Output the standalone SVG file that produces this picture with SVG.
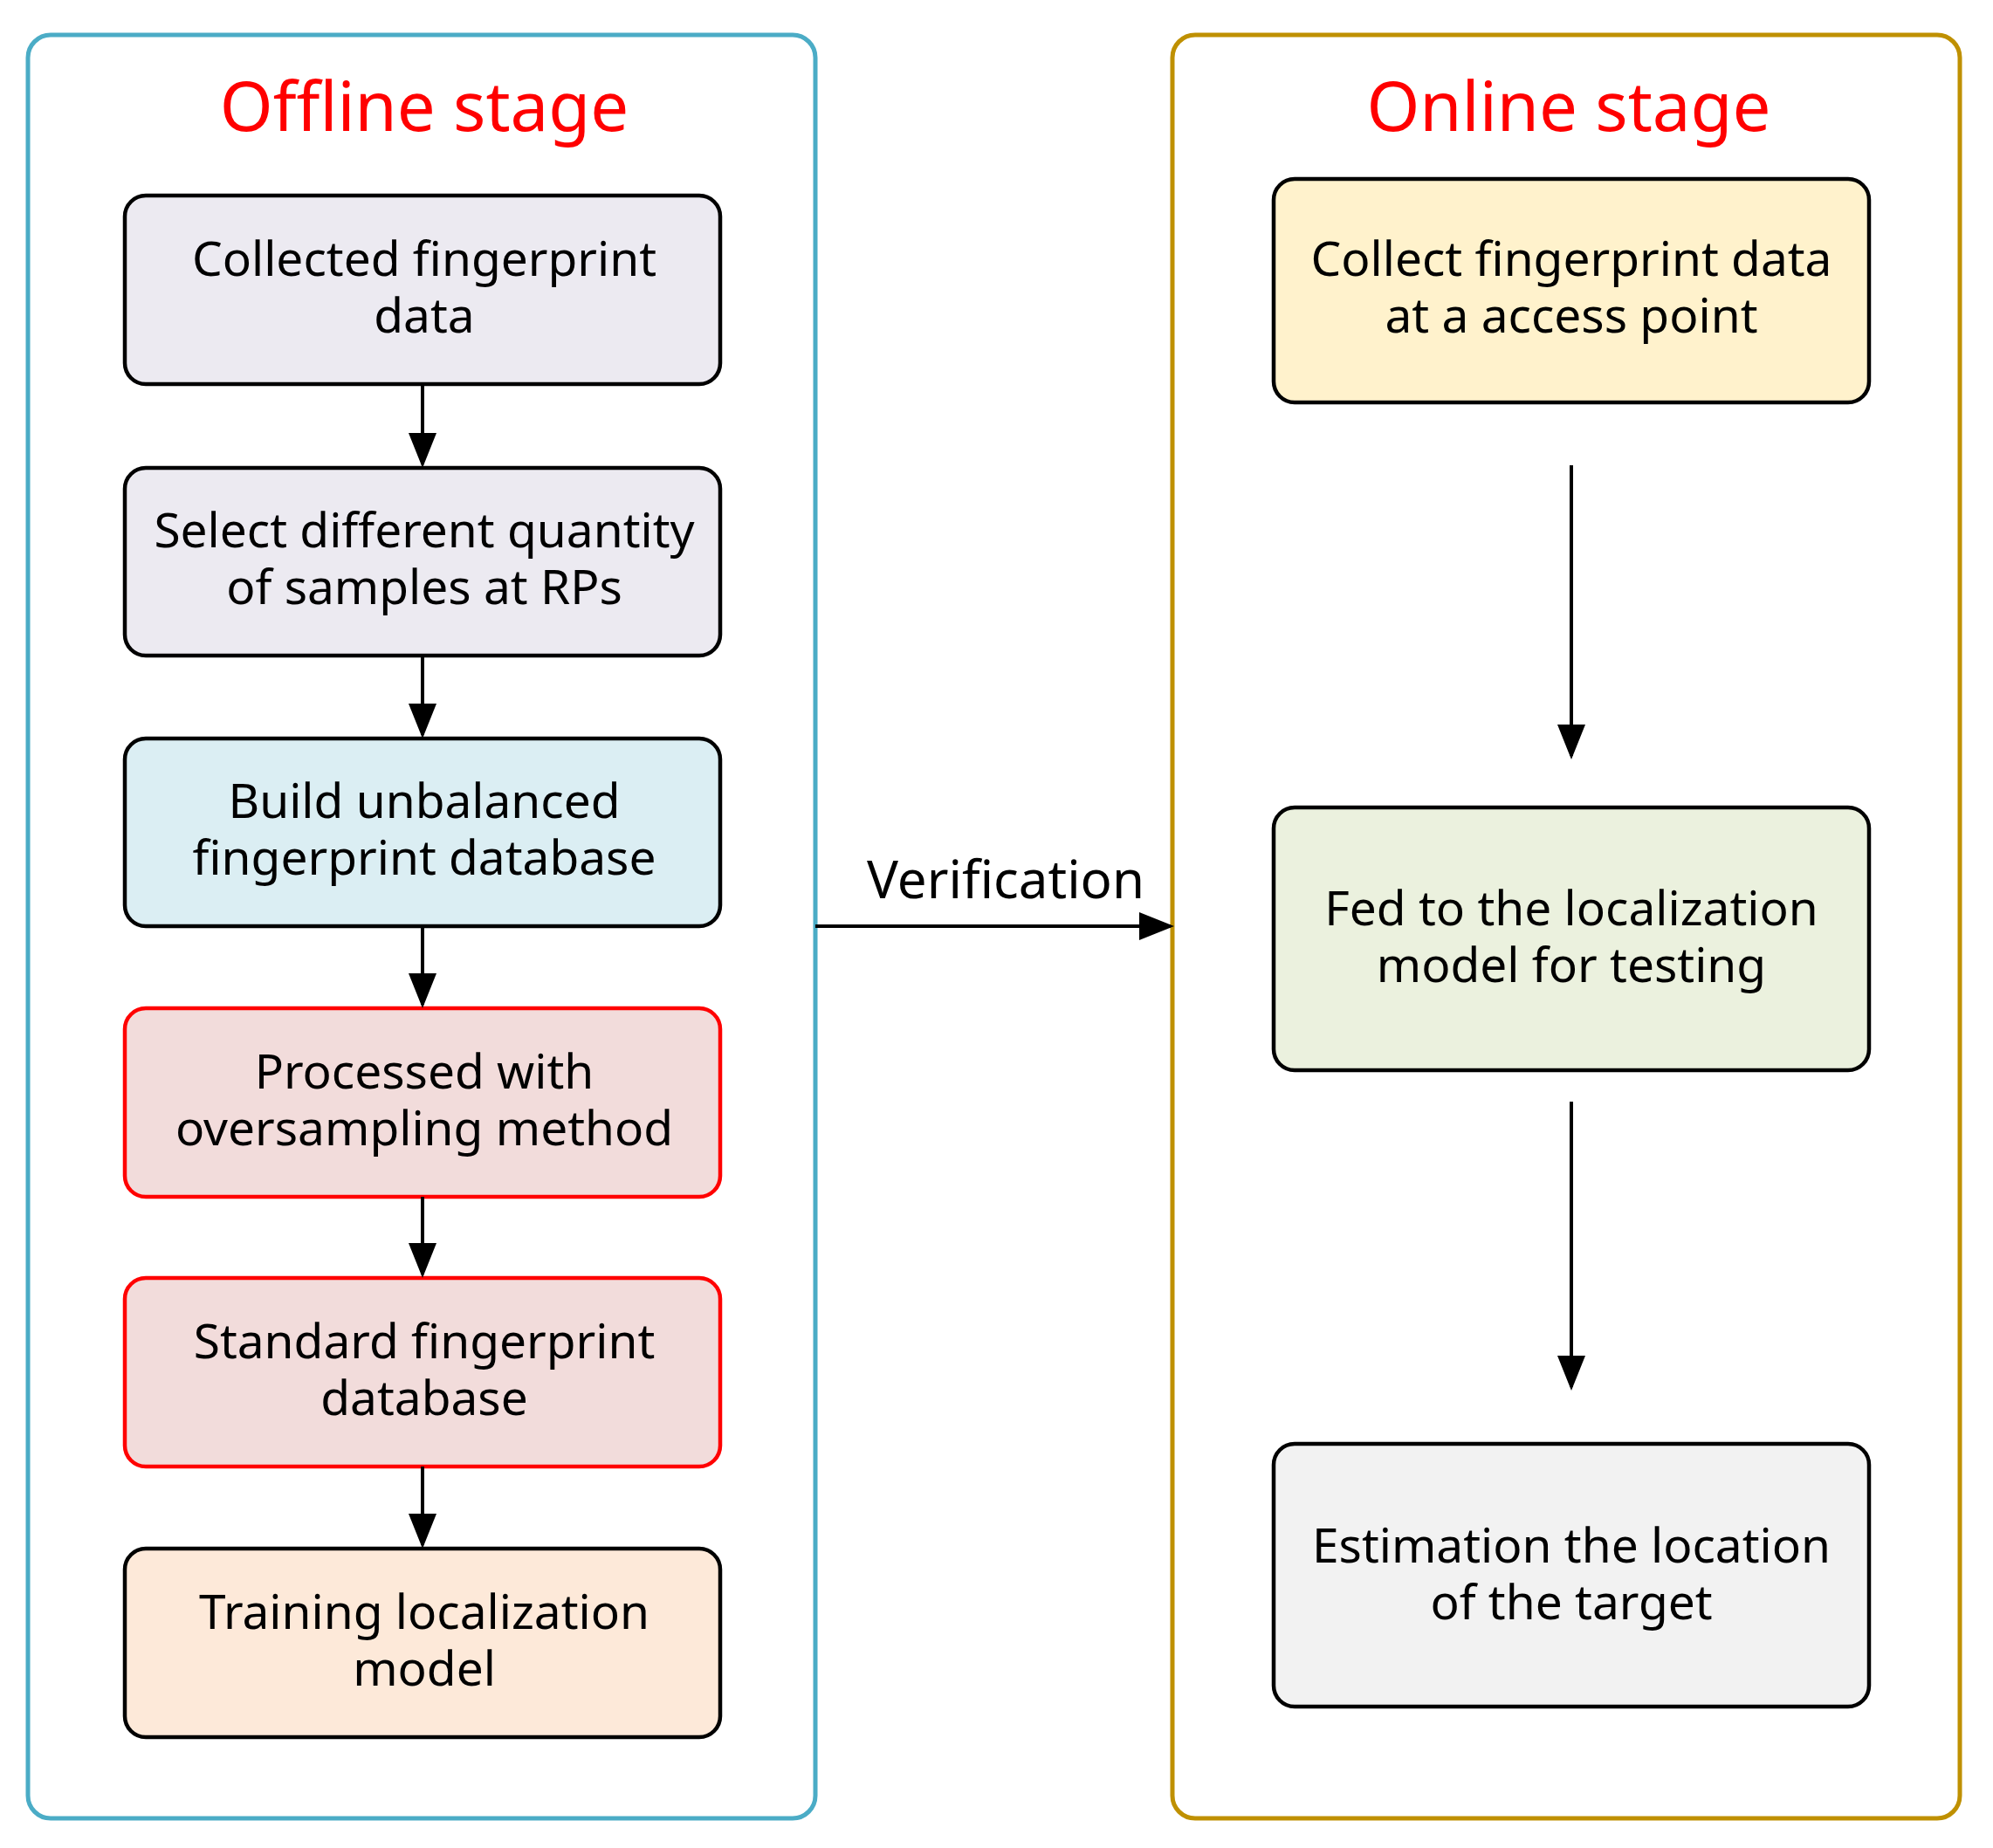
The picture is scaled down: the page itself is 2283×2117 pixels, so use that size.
<svg xmlns="http://www.w3.org/2000/svg" width="2283" height="2117" viewBox="0 0 2283 2117">
<style>
.box{stroke:#000;stroke-width:4.5}
.red{stroke:#FF0000}
.t{font-family:"Noto Sans","Open Sans",sans-serif;font-size:55px;text-anchor:middle;fill:#000}
.title{font-family:"Noto Sans","Open Sans",sans-serif;font-size:78px;text-anchor:middle;fill:#FF0000}
.c{stroke:#000;stroke-width:4;fill:none;marker-end:url(#ah)}
</style>
<defs><marker id="ah" markerWidth="10" markerHeight="10" refX="9" refY="5" orient="auto" markerUnits="strokeWidth"><path d="M0,1 L10,5 L0,9 z" fill="#000"/></marker></defs>
<rect width="2283" height="2117" fill="#fff"/>
<g id="offline"><rect x="32" y="40" width="902" height="2043" rx="26" fill="#fff" stroke="#4BACC6" stroke-width="5"/><text class="title" x="486" y="150">Offline stage</text></g>
<g id="online"><rect x="1343" y="40" width="902" height="2043" rx="26" fill="#fff" stroke="#BF9000" stroke-width="5"/><text class="title" x="1797" y="150">Online stage</text></g>
<g id="n1"><rect class="box" x="143" y="224" width="682" height="216" rx="24" fill="#ECEAF1"/><text class="t" x="486" y="316">Collected fingerprint</text><text class="t" x="486" y="381">data</text></g>
<g id="n2"><rect class="box" x="143" y="536" width="682" height="215" rx="24" fill="#ECEAF1"/><text class="t" x="486" y="627">Select different quantity</text><text class="t" x="486" y="692">of samples at RPs</text></g>
<g id="n3"><rect class="box" x="143" y="846" width="682" height="215" rx="24" fill="#DBEEF3"/><text class="t" x="486" y="937">Build unbalanced</text><text class="t" x="486" y="1002">fingerprint database</text></g>
<g id="n4"><rect class="box red" x="143" y="1155" width="682" height="216" rx="24" fill="#F2DCDB"/><text class="t" x="486" y="1247">Processed with</text><text class="t" x="486" y="1312">oversampling method</text></g>
<g id="n5"><rect class="box red" x="143" y="1464" width="682" height="216" rx="24" fill="#F2DCDB"/><text class="t" x="486" y="1556">Standard fingerprint</text><text class="t" x="486" y="1621">database</text></g>
<g id="n6"><rect class="box" x="143" y="1774" width="682" height="216" rx="24" fill="#FDE9D9"/><text class="t" x="486" y="1866">Training localization</text><text class="t" x="486" y="1931">model</text></g>
<g id="r1"><rect class="box" x="1459" y="205" width="682" height="256" rx="24" fill="#FFF2CC"/><text class="t" x="1800" y="316">Collect fingerprint data</text><text class="t" x="1800" y="381">at a access point</text></g>
<g id="r2"><rect class="box" x="1459" y="925" width="682" height="301" rx="24" fill="#EBF1DE"/><text class="t" x="1800" y="1060">Fed to the localization</text><text class="t" x="1800" y="1125">model for testing</text></g>
<g id="r3"><rect class="box" x="1459" y="1654" width="682" height="301" rx="24" fill="#F2F2F2"/><text class="t" x="1800" y="1790">Estimation the location</text><text class="t" x="1800" y="1855">of the target</text></g>
<g id="connectors">
<line class="c" x1="484" y1="440" x2="484" y2="532"/>
<line class="c" x1="484" y1="751" x2="484" y2="842"/>
<line class="c" x1="484" y1="1061" x2="484" y2="1151"/>
<line class="c" x1="484" y1="1371" x2="484" y2="1460"/>
<line class="c" x1="484" y1="1680" x2="484" y2="1770"/>
<line class="c" x1="1800" y1="533" x2="1800" y2="866"/>
<line class="c" x1="1800" y1="1262" x2="1800" y2="1589"/>
<line class="c" x1="934" y1="1061" x2="1341" y2="1061"/>
<text x="1152" y="1029" style="font-family:'Noto Sans','Open Sans',sans-serif;font-size:60px;text-anchor:middle">Verification</text>
</g>
</svg>
